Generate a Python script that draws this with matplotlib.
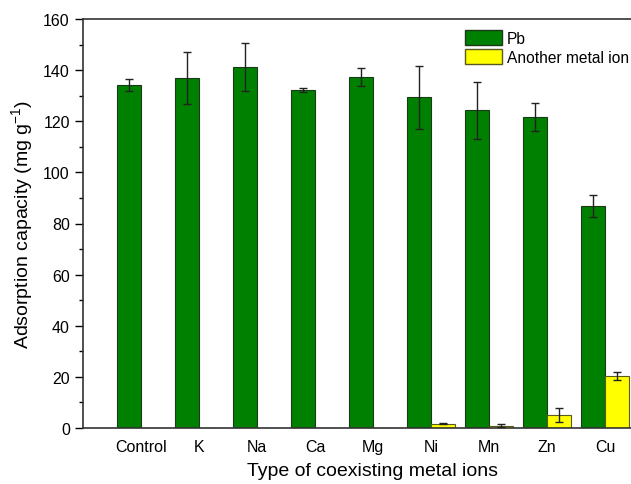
import numpy as np
from matplotlib import pyplot as plt
from matplotlib.patches import Patch

plt.rcParams['font.family'] = ['Liberation Sans', 'DejaVu Sans']

ions = ['Control', 'K', 'Na', 'Ca', 'Mg', 'Ni', 'Mn', 'Zn', 'Cu']
pb = [134.2, 137.0, 141.2, 132.4, 137.3, 129.3, 124.3, 121.7, 86.8]
pb_err = [2.4, 10.2, 9.3, 0.8, 3.5, 12.2, 11.2, 5.6, 4.2]
other = [0, 0, 0, 0, 0, 1.6, 0.8, 5.1, 20.3]
other_err = [np.nan, np.nan, np.nan, np.nan, np.nan, 0.2, 0.6, 2.6, 1.5]

fig = plt.figure(figsize=(6.31, 4.85), dpi=100)
ax = fig.add_axes([83 / 631, 56 / 485, 580 / 631, 409 / 485])

x = np.arange(len(ions))
w = 0.41
ax.bar(x - w / 2, pb, w, color='#008000', edgecolor='#1a3a1a', linewidth=0.8, zorder=2)
ax.bar(x + w / 2, other, w, color='#ffff00', edgecolor='#5a5a20', linewidth=0.8, zorder=2)
ax.errorbar(x - w / 2, pb, yerr=pb_err, fmt='none', ecolor='#222222',
            elinewidth=1.0, capsize=2.8, capthick=1.0, zorder=3)
ax.errorbar(x + w / 2, other, yerr=other_err, fmt='none', ecolor='#222222',
            elinewidth=1.0, capsize=2.8, capthick=1.0, zorder=3)

ax.set_xlim(-1, 9)
ax.set_ylim(0, 160)
ax.set_xticks(x)
ax.set_xticklabels(ions, fontsize=11.5)
ax.set_yticks(np.arange(0, 161, 20))
ax.set_yticks(np.arange(10, 160, 20), minor=True)
ax.tick_params(axis='x', length=0, pad=8)
ax.tick_params(axis='y', which='major', length=6, width=1.0, labelsize=11.5, direction='out')
ax.tick_params(axis='y', which='minor', length=3, width=1.0, direction='out')
for s in ax.spines.values():
    s.set_linewidth(1.2)
    s.set_color('#333333')
ax.spines['right'].set_visible(False)

ax.set_xlabel('Type of coexisting metal ions', fontsize=14, labelpad=6)
ax.set_ylabel(r'Adsorption capacity (mg g$^{\mathregular{-1}}$)', fontsize=14, labelpad=5)

handles = [Patch(facecolor='#008000', edgecolor='#1a3a1a', label='Pb'),
           Patch(facecolor='#ffff00', edgecolor='#5a5a20', label='Another metal ion')]
fig.legend(handles=handles, loc='upper left', bbox_to_anchor=(462 / 631, 1 - 28 / 485),
           frameon=False, fontsize=11.2, handlelength=2.35, handleheight=1.1,
           labelspacing=0.2, handletextpad=0.35, borderpad=0.2, borderaxespad=0)

fig.savefig('out.png', dpi=100)
